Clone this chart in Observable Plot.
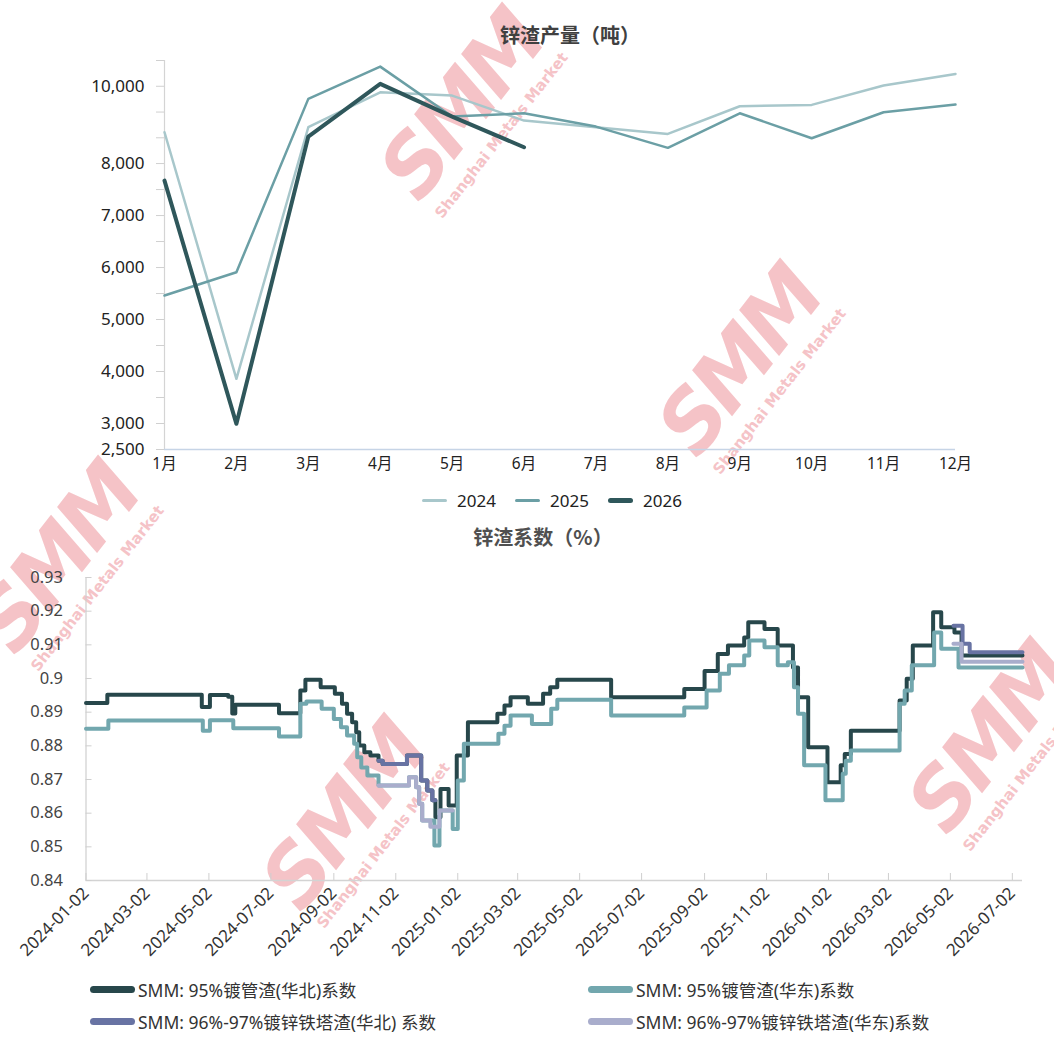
<!DOCTYPE html>
<html>
<head>
<meta charset="utf-8">
<script src="https://cdn.jsdelivr.net/npm/d3@7"></script>
<script src="https://cdn.jsdelivr.net/npm/@observablehq/plot@0.6"></script>
<style>
  body { margin:0; background:#fff; width:1054px; height:1039px; overflow:hidden; position:relative;
         font-family:"Noto Sans","Noto Sans CJK SC",sans-serif; }
  .abs { position:absolute; }
  .wm { position:absolute; color:#f5c3c7; transform:translate(-50%,-50%) rotate(-52deg); text-align:right; pointer-events:none; }
  .wm .big { font-family:"DejaVu Sans",sans-serif; font-weight:900; font-size:82px; line-height:0.9; letter-spacing:-5px; font-style:italic; }
  .wm .small { font-family:"DejaVu Sans",sans-serif; font-weight:700; font-size:15px; margin-top:4px; }
  .title { position:absolute; font-weight:700; color:#404040; transform:translateX(-50%); white-space:nowrap;
           font-family:"Noto Sans CJK SC",sans-serif; }
  .leg { position:absolute; display:flex; align-items:center; white-space:nowrap; color:#333; }
  .sw { display:inline-block; border-radius:4px; margin-right:4px; }
</style>
</head>
<body>
<div id="wmLayer"></div>
<div id="topChart" class="abs" style="left:0;top:0"></div>
<div id="bottomChart" class="abs" style="left:0;top:540px"></div>
<div class="title" style="left:570px;top:20px;font-size:20px;">锌渣产量（吨）</div>
<div class="title" style="left:543px;top:522px;font-size:20px;color:#505050;">锌渣系数（%）</div>
<div id="topLegend"></div>
<div id="bottomLegend"></div>
<script>
// ---------- data: zinc dross output (tonnes) ----------
const monthLabels = ["1月","2月","3月","4月","5月","6月","7月","8月","9月","10月","11月","12月"];
const output2024 = [8810, 3860, 8940, 9845, 9759, 9112, 8939, 8768, 9482, 9518, 10018, 10320];
const output2025 = [5462, 5910, 9674, 10509, 9216, 9301, 8957, 8406, 9301, 8655, 9327, 9526];
const output2026 = [7673, 2994, 8698, 10062, 9216, 8422];
const outputYTicks = [2500,3000,3500,4000,4500,5000,5500,6000,6500,7000,7500,8000,8667,9333,10000,10667];
const outputYLabels = [2500,3000,4000,5000,6000,7000,8000,10000];
const yearNames = ["2024","2025","2026"];

// ---------- data: zinc dross coefficient (step changes) ----------
const northPipe = [
["2024-01-02",0.8927],["2024-01-23",0.8952],["2024-04-25",0.8915],["2024-05-03",0.8951],["2024-05-21",0.8946],
["2024-05-25",0.8896],["2024-05-28",0.8922],["2024-07-10",0.8897],["2024-07-31",0.8964],["2024-08-05",0.8996],
["2024-08-20",0.8974],["2024-09-03",0.8955],["2024-09-10",0.8925],["2024-09-15",0.8895],["2024-09-20",0.8870],
["2024-09-24",0.8840],["2024-09-27",0.8801],["2024-10-02",0.8781],["2024-10-08",0.8771],["2024-10-16",0.8756],
["2024-10-20",0.8746],["2024-11-13",0.8771],["2024-11-27",0.8697],["2024-12-03",0.8667],["2024-12-08",0.8638],
["2024-12-11",0.8588],["2024-12-16",0.8672],["2024-12-24",0.8623],["2025-01-01",0.8771],["2025-01-12",0.8870],
["2025-02-10",0.8895],["2025-02-17",0.8920],["2025-02-23",0.8944],["2025-03-12",0.8925],["2025-03-27",0.8955],
["2025-04-03",0.8974],["2025-04-10",0.8996],["2025-06-02",0.8944],["2025-08-13",0.8969],["2025-09-02",0.9022],
["2025-09-15",0.9073],["2025-09-25",0.9098],["2025-10-11",0.9122],["2025-10-15",0.9167],["2025-10-31",0.9147],
["2025-11-13",0.9098],["2025-11-28",0.9033],["2025-12-03",0.8944],["2025-12-13",0.8796],["2026-01-01",0.8692],
["2026-01-14",0.8742],["2026-01-18",0.8776],["2026-01-24",0.8845],["2026-03-13",0.8935],["2026-03-20",0.8999],
["2026-03-26",0.9098],["2026-04-15",0.9197],["2026-04-23",0.9152],["2026-05-06",0.9137],["2026-05-13",0.9068],
["2026-07-12",0.9068]
];
const eastPipe = [
["2024-01-02",0.8851],["2024-01-24",0.8875],["2024-04-26",0.8845],["2024-05-03",0.8876],["2024-05-26",0.8852],
["2024-07-10",0.8828],["2024-07-31",0.8925],["2024-08-06",0.8932],["2024-08-21",0.8910],["2024-09-02",0.8880],
["2024-09-09",0.8855],["2024-09-15",0.8831],["2024-09-22",0.8806],["2024-09-25",0.8766],["2024-09-29",0.8736],
["2024-10-05",0.8712],["2024-10-16",0.8682],["2024-11-15",0.8707],["2024-11-22",0.8677],["2024-11-25",0.8628],
["2024-11-28",0.8578],["2024-12-10",0.8504],["2024-12-15",0.8608],["2024-12-28",0.8553],["2025-01-02",0.8697],
["2025-01-08",0.8806],["2025-02-11",0.8836],["2025-02-17",0.8860],["2025-02-23",0.8890],["2025-03-16",0.8865],
["2025-04-04",0.8910],["2025-04-10",0.8937],["2025-06-02",0.8890],["2025-08-13",0.8914],["2025-09-04",0.8964],
["2025-09-17",0.9014],["2025-09-26",0.9039],["2025-10-11",0.9068],["2025-10-16",0.9113],["2025-10-31",0.9093],
["2025-11-13",0.9039],["2025-11-23",0.9048],["2025-11-29",0.8974],["2025-12-03",0.8895],["2025-12-09",0.8742],
["2025-12-30",0.8638],["2026-01-16",0.8717],["2026-01-19",0.8756],["2026-01-24",0.8786],["2026-03-13",0.8925],
["2026-03-18",0.8964],["2026-03-25",0.9039],["2026-04-16",0.9137],["2026-04-23",0.9088],["2026-05-10",0.9033],
["2026-07-12",0.9033]
];
const northTower = [
["2024-10-16",0.8756],["2024-10-20",0.8746],["2024-11-13",0.8771],["2024-11-27",0.8697],["2024-12-03",0.8667],
["2024-12-08",0.8638],["2024-12-11",0.8638],["2024-12-12",null],
["2026-05-05",0.9157],["2026-05-14",0.9103],["2026-05-21",0.9078],["2026-07-12",0.9078]
];
const eastTower = [
["2024-10-16",0.8682],["2024-11-15",0.8707],["2024-11-22",0.8677],["2024-11-25",0.8628],["2024-11-28",0.8578],
["2024-12-06",0.8560],["2024-12-15",0.8608],["2024-12-28",0.8608],["2024-12-29",null],
["2026-05-05",0.9103],["2026-05-13",0.9050],["2026-07-12",0.9050]
];
const coefNames = ["SMM: 95%镀管渣(华北)系数","SMM: 95%镀管渣(华东)系数","SMM: 96%-97%镀锌铁塔渣(华北) 系数","SMM: 96%-97%镀锌铁塔渣(华东)系数"];
const coefTicks = [0.84,0.85,0.86,0.87,0.88,0.89,0.90,0.91,0.92,0.93];
const dateTicks = ["2024-01-02","2024-03-02","2024-05-02","2024-07-02","2024-09-02","2024-11-02",
  "2025-01-02","2025-03-02","2025-05-02","2025-07-02","2025-09-02","2025-11-02",
  "2026-01-02","2026-03-02","2026-05-02","2026-07-02"];
const dateDomain = ["2024-01-02","2026-07-12"];

// ---------- styles ----------
const yearColors = ["#a8c7cb","#6b9fa5","#2f575b"];
const yearWidths = [2.5, 2.5, 4];
const coefColors = ["#27474b","#72a7ae","#6873a3","#a9adcc"];
const fontFamily = '"Noto Sans","Noto Sans CJK SC",sans-serif';

// ---------- top chart ----------
// the original axis is compressed above 8,000
const compress = v => v <= 8000 ? v : 8000 + (v - 8000) * 0.7433;
const outputSeries = [output2024, output2025, output2026];
const outputRows = outputSeries.flatMap((arr, k) => arr.map((v, i) => ({year: yearNames[k], month: monthLabels[i], value: v})));
const fmtComma = d3.format(",");
const labelSet = new Set(outputYLabels);
const yTop = outputYTicks[outputYTicks.length - 1];

const topPlot = Plot.plot({
  width: 1054, height: 480,
  marginLeft: 164, marginRight: 99, marginTop: 60, marginBottom: 31,
  style: {fontFamily, background: "transparent", color: "#222", overflow: "visible"},
  x: {type: "point", domain: monthLabels, padding: 0, round: false, label: null},
  y: {transform: compress, domain: [compress(2500), compress(yTop)], label: null},
  marks: [
    Plot.ruleX([monthLabels[0]], {y1: 2500, y2: yTop, stroke: "#d4d4d4", strokeWidth: 1.2}),
    Plot.ruleY([2500], {stroke: "#c6d4e6", strokeWidth: 1.5}),
    Plot.axisY(outputYTicks, {tickSize: 8, tickPadding: 12, stroke: "#d0d0d0", fontSize: 17, fill: "#222",
      tickFormat: d => labelSet.has(d) ? fmtComma(d) : ""}),
    Plot.axisX({tickSize: 0, tickPadding: 8, fontSize: 15.5, fill: "#222"}),
    ...yearNames.map((y, k) => Plot.line(outputRows.filter(r => r.year === y), {
      x: "month", y: "value", stroke: yearColors[k], strokeWidth: yearWidths[k], strokeLinejoin: "round", strokeLinecap: "round"
    }))
  ]
});
document.getElementById("topChart").appendChild(topPlot);

// ---------- bottom chart ----------
const parse = s => new Date(s + "T00:00:00Z");
const coefSeries = [northPipe, eastPipe, northTower, eastTower];
const coefRows = coefSeries.flatMap((arr, k) => arr.map(([d, v]) => ({series: coefNames[k], date: parse(d), value: v})));
const fmtDate = d3.utcFormat("%Y-%m-%d");

const bottomPlot = Plot.plot({
  width: 1054, height: 450,
  marginLeft: 85.5, marginRight: 32, marginTop: 37, marginBottom: 110,
  style: {fontFamily, background: "transparent", color: "#333", overflow: "visible"},
  x: {type: "utc", domain: dateDomain.map(parse), label: null},
  y: {domain: [0.84, 0.93], label: null},
  marks: [
    Plot.ruleX([parse(dateDomain[0])], {stroke: "#cfcfcf", strokeWidth: 1.2}),
    Plot.ruleY([0.84], {stroke: "#d3d3d3", strokeWidth: 1.5}),
    Plot.axisY(coefTicks, {tickSize: -6, tickPadding: 29, stroke: "#cfcfcf", fontSize: 16.5, fill: "#444",
      tickFormat: d => String(+d.toFixed(2))}),
    Plot.axisX(dateTicks.map(parse), {tickSize: -7, tickPadding: 17, tickRotate: -45, stroke: "#cfcfcf",
      fontSize: 17, fill: "#333", tickFormat: fmtDate}),
    ...coefNames.map((n, k) => Plot.line(coefRows.filter(r => r.series === n), {
      x: "date", y: "value", curve: "step-after", stroke: coefColors[k], strokeWidth: 4, strokeLinejoin: "round"
    }))
  ]
});
document.getElementById("bottomChart").appendChild(bottomPlot);

// ---------- legends ----------
const topLeg = document.getElementById("topLegend");
const topLegX = [422, 515, 608];
yearNames.forEach((y, k) => {
  const el = document.createElement("div");
  el.className = "leg";
  el.style.left = topLegX[k] + "px"; el.style.top = "489px"; el.style.fontSize = "17px"; el.style.color = "#222";
  el.innerHTML = `<span class="sw" style="width:25px;height:${k===2?5:3.5}px;background:${yearColors[k]};margin-right:10px"></span>${y}`;
  topLeg.appendChild(el);
});
const botLeg = document.getElementById("bottomLegend");
const botPos = [[90, 977],[588, 977],[90, 1009],[588, 1009]];
coefNames.forEach((n, k) => {
  const el = document.createElement("div");
  el.className = "leg";
  el.style.left = botPos[k][0] + "px"; el.style.top = botPos[k][1] + "px"; el.style.fontSize = "17.5px";
  el.innerHTML = `<span class="sw" style="width:45px;height:7px;background:${coefColors[k]};margin-right:3px"></span>${n}`;
  botLeg.appendChild(el);
});

// ---------- watermarks ----------
const wmLayer = document.getElementById("wmLayer");
[[470,112],[748,368],[66,565],[352,822],[998,745]].forEach(([x, y]) => {
  const el = document.createElement("div");
  el.className = "wm";
  el.style.left = x + "px"; el.style.top = y + "px";
  el.innerHTML = `<div class="big">SMM</div><div class="small">Shanghai Metals Market</div>`;
  wmLayer.appendChild(el);
});
</script>
</body>
</html>
